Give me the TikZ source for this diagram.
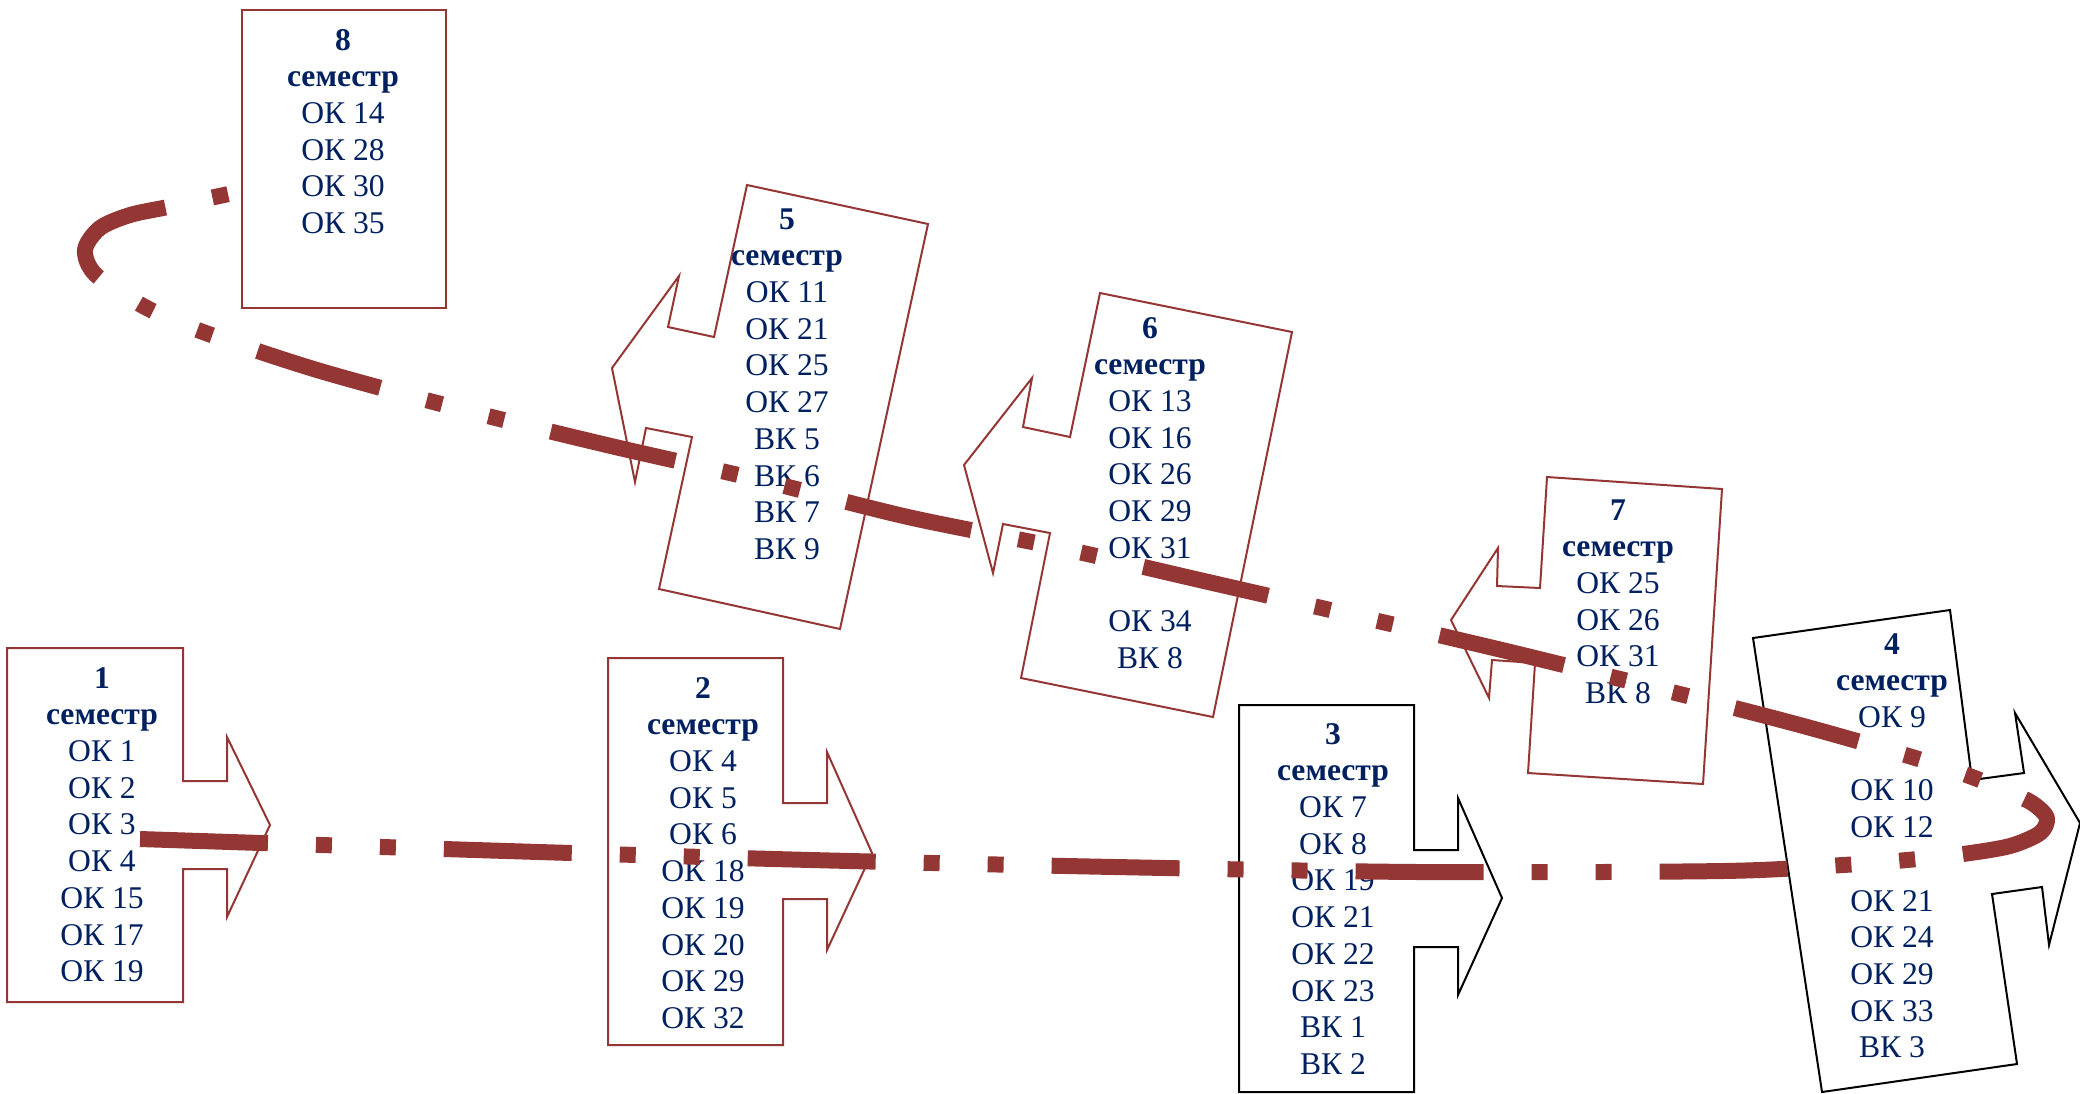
\documentclass[tikz,border=0pt]{standalone}
\usepackage{fontspec}
\setmainfont{Liberation Serif}
\definecolor{trailred}{HTML}{943634}
\definecolor{semnavy}{HTML}{002060}
\tikzset{
  redbox/.style={draw=trailred, line width=1pt, fill=white, line join=miter},
  blackbox/.style={draw=black, line width=1pt, fill=white, line join=miter},
  semtext/.style={anchor=north, inner sep=0pt, align=center, text=semnavy,
    font=\fontsize{15.8}{18.35}\selectfont},
  trail/.style={draw=trailred, line width=8pt, line join=round,
    dash pattern=on 64pt off 24pt on 8pt off 24pt on 8pt off 24pt},
}
\begin{document}
\begin{tikzpicture}[x=0.5pt,y=-0.5pt]
\fill[white] (0,0) rectangle (2080,1093);
\useasboundingbox (0,0) rectangle (2080,1093);

% semester boxes (arrow callouts)
\draw[redbox] (7,648) -- (183,648) -- (183,781) -- (227,781) -- (227,737) -- (270,825) -- (227,917) -- (227,869) -- (183,869) -- (183,1002) -- (7,1002) -- cycle;
\draw[redbox] (608,658) -- (783,658) -- (783,803) -- (827,803) -- (827,752) -- (872,853) -- (827,950) -- (827,899) -- (783,899) -- (783,1045) -- (608,1045) -- cycle;
\draw[blackbox] (1239,705) -- (1414,705) -- (1414,850) -- (1458,850) -- (1458,798) -- (1502,898) -- (1458,995) -- (1458,947) -- (1414,947) -- (1414,1092) -- (1239,1092) -- cycle;
\draw[blackbox] (1753,638) -- (1950,610) -- (1972,780) -- (2024,773) -- (2015,713) -- (2080,823) -- (2049,945) -- (2042,887) -- (1992,894) -- (2017,1064) -- (1822,1092) -- cycle;
\draw[redbox] (747,185) -- (928,224) -- (840,629) -- (659,589) -- (692,437) -- (646,428) -- (635,482) -- (612,368) -- (679,276) -- (668,327) -- (714,337) -- cycle;
\draw[redbox] (1100,293) -- (1292,332) -- (1213,717) -- (1021,678) -- (1050,533) -- (1003,524) -- (993,573) -- (964,465) -- (1032,378) -- (1023,427) -- (1070,437) -- cycle;
\draw[redbox] (1547,477) -- (1722,489) -- (1703,784) -- (1528,773) -- (1535,663) -- (1492,660) -- (1489,698) -- (1451,620) -- (1498,548) -- (1497,586) -- (1540,588) -- cycle;
\draw[redbox] (242,10) rectangle (446,308);

% texts
\node[semtext] (s1) at (102,662) {\strut\textbf{1}\\\textbf{семестр}\\ОК 1\\ОК 2\\ОК 3\\ОК 4\\ОК 15\\ОК 17\\ОК 19};
\node[semtext] (s2) at (703,672) {\strut\textbf{2}\\\textbf{семестр}\\ОК 4\\ОК 5\\ОК 6\\ОК 18\\ОК 19\\ОК 20\\ОК 29\\ОК 32};
\node[semtext] (s3) at (1333,718) {\strut\textbf{3}\\\textbf{семестр}\\ОК 7\\ОК 8\\ОК 19\\ОК 21\\ОК 22\\ОК 23\\ВК 1\\ВК 2};
\node[semtext] (s4) at (1892,628) {\strut\textbf{4}\\\textbf{семестр}\\ОК 9\\\strut\\ОК 10\\ОК 12\\\strut\\ОК 21\\ОК 24\\ОК 29\\ОК 33\\ВК 3};
\node[semtext] (s5) at (787,203) {\strut\textbf{5}\\\textbf{семестр}\\ОК 11\\ОК 21\\ОК 25\\ОК 27\\ВК 5\\ВК 6\\ВК 7\\ВК 9};
\node[semtext] (s6) at (1150,312) {\strut\textbf{6}\\\textbf{семестр}\\ОК 13\\ОК 16\\ОК 26\\ОК 29\\ОК 31\\\strut\\ОК 34\\ВК 8};
\node[semtext] (s7) at (1618,494) {\strut\textbf{7}\\\textbf{семестр}\\ОК 25\\ОК 26\\ОК 31\\ВК 8};
\node[semtext] (s8) at (343,24) {\strut\textbf{8}\\\textbf{семестр}\\ОК 14\\ОК 28\\ОК 30\\ОК 35};

% trail through semesters
\path (140,839) coordinate (t1) (507,851) coordinate (t2) (811,860) coordinate (t3)
  (1115,867) coordinate (t4) (1419,872) coordinate (t5) (1723,871) coordinate (t6)
  (1843,865) coordinate (t7) (1907,860) coordinate (t8) (1963,854) coordinate (t9)
  (2010,846) coordinate (t10) (2040,833) coordinate (t11) (2047,818) coordinate (t12)
  (2035,805) coordinate (t13) (2018,796) coordinate (t14) (1972,777) coordinate (t15)
  (1912,757) coordinate (t16) (1796,724) coordinate (t17) (1648,686) coordinate (t18)
  (1502,650) coordinate (t19) (1352,615) coordinate (t20) (1204,581) coordinate (t21)
  (1056,547) coordinate (t22) (908,517) coordinate (t23) (760,480) coordinate (t24)
  (611,446) coordinate (t25) (464,410) coordinate (t26) (317,370) coordinate (t27)
  (203,332) coordinate (t28) (145,307) coordinate (t29) (96,275) coordinate (t30)
  (85,250) coordinate (t31) (100,228) coordinate (t32) (130,215) coordinate (t33)
  (168,207) coordinate (t34) (224,195) coordinate (t35) (238,192) coordinate (t36);
\draw[trail] plot[smooth, tension=0.5] coordinates {(t1) (t2) (t3) (t4) (t5) (t6) (t7) (t8) (t9) (t10) (t11) (t12) (t13) (t14) (t15) (t16) (t17) (t18) (t19) (t20) (t21) (t22) (t23) (t24) (t25) (t26) (t27) (t28) (t29) (t30) (t31) (t32) (t33) (t34) (t35) (t36)};
\end{tikzpicture}
\end{document}
